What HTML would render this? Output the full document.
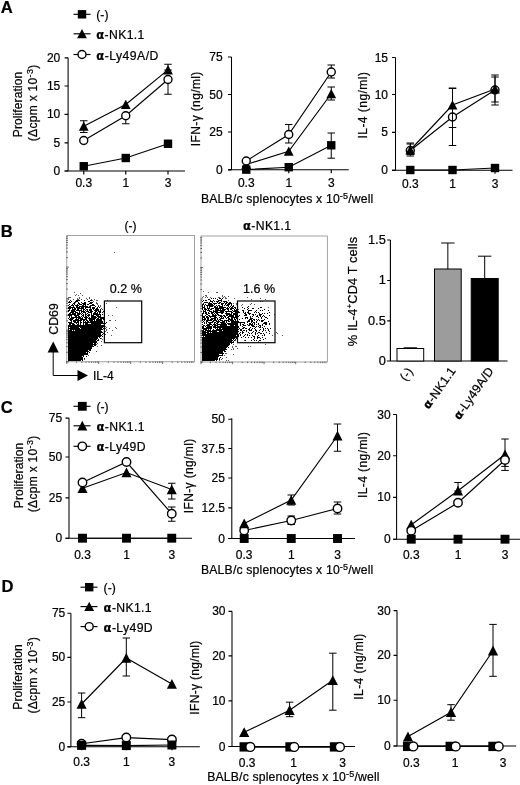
<!DOCTYPE html>
<html lang="en"><head><meta charset="utf-8"><title>Figure</title>
<style>
html,body{margin:0;padding:0;background:#fff;}
body{width:520px;height:785px;overflow:hidden;}
svg{display:block;}
svg text{font-family:'Liberation Sans', Arial, Helvetica, sans-serif;fill:#000;stroke:#000;stroke-width:0.22px;}
</style></head><body>
<svg width="520" height="785" viewBox="0 0 520 785">
<rect width="520" height="785" fill="#fff"/>
<text x="0.80" y="12.60" font-size="16.6" text-anchor="start" font-weight="bold" >A</text>
<path d="M73.5 14.3H90.5" stroke="#000" stroke-width="1.15"/>
<rect x="77.80" y="10.10" width="8.4" height="8.4" fill="#000"/>
<text x="96.30" y="19.10" font-size="12.2" text-anchor="start" font-weight="normal" >(-)</text>
<path d="M73.5 33.8H90.5" stroke="#000" stroke-width="1.15"/>
<path d="M82.00 29.00L86.90 38.30H77.10Z" fill="#000"/>
<text x="96.30" y="39.30" font-size="12.2" text-anchor="start" font-weight="normal" textLength="48" lengthAdjust="spacing"><tspan font-weight="bold" font-family="'DejaVu Sans','Liberation Sans',sans-serif" font-size="11.6">α</tspan>-NK1.1</text>
<path d="M73.5 54.5H90.5" stroke="#000" stroke-width="1.15"/>
<circle cx="82.00" cy="54.50" r="4.00" fill="#fff" stroke="#000" stroke-width="1.4"/>
<text x="96.30" y="59.60" font-size="12.2" text-anchor="start" font-weight="normal" textLength="62" lengthAdjust="spacing"><tspan font-weight="bold" font-family="'DejaVu Sans','Liberation Sans',sans-serif" font-size="11.6">α</tspan>-Ly49A/D</text>
<text transform="translate(22.40 104.50) rotate(-90)" font-size="12" text-anchor="middle"  textLength="65.5" lengthAdjust="spacing">Proliferation</text>
<text transform="translate(37.00 103.00) rotate(-90)" font-size="12" text-anchor="middle" textLength="76.5" lengthAdjust="spacing">(Δcpm x 10<tspan font-size="9" dy="-4.2">-3</tspan><tspan dy="4.2">)</tspan></text>
<path d="M68.1 57.8V171M64.6 171H185" stroke="#000" stroke-width="1.05" fill="none"/>
<path d="M64.6 57.8H68.1M64.6 86H68.1M64.6 114.3H68.1M64.6 142.8H68.1M64.6 171H68.1M83.75 171v3.5M125.75 171v3.5M168 171v3.5" stroke="#000" stroke-width="1.15" fill="none"/>
<text x="60.30" y="61.80" font-size="12" text-anchor="end" font-weight="normal" >20</text>
<text x="60.30" y="90.00" font-size="12" text-anchor="end" font-weight="normal" >15</text>
<text x="60.30" y="118.30" font-size="12" text-anchor="end" font-weight="normal" >10</text>
<text x="60.30" y="146.80" font-size="12" text-anchor="end" font-weight="normal" >5</text>
<text x="60.30" y="175.00" font-size="12" text-anchor="end" font-weight="normal" >0</text>
<text x="83.75" y="187.30" font-size="12" text-anchor="middle" font-weight="normal" >0.3</text>
<text x="125.75" y="187.30" font-size="12" text-anchor="middle" font-weight="normal" >1</text>
<text x="168.00" y="187.30" font-size="12" text-anchor="middle" font-weight="normal" >3</text>
<path d="M83.75 166.25L125.75 158.00L168.00 143.75" stroke="#000" stroke-width="1.15" fill="none"/>
<rect x="79.55" y="162.05" width="8.4" height="8.4" fill="#000"/>
<rect x="121.55" y="153.80" width="8.4" height="8.4" fill="#000"/>
<rect x="163.80" y="139.55" width="8.4" height="8.4" fill="#000"/>
<path d="M83.75 140.50L125.75 115.75L168.00 79.50" stroke="#000" stroke-width="1.15" fill="none"/>
<path d="M125.75 115.75V123.75M122.00 115.75h7.5M122.00 123.75h7.5" stroke="#000" stroke-width="1" fill="none"/>
<path d="M168.00 79.50V94.25M164.25 79.50h7.5M164.25 94.25h7.5" stroke="#000" stroke-width="1" fill="none"/>
<circle cx="83.75" cy="140.50" r="4.00" fill="#fff" stroke="#000" stroke-width="1.4"/>
<circle cx="125.75" cy="115.75" r="4.00" fill="#fff" stroke="#000" stroke-width="1.4"/>
<circle cx="168.00" cy="79.50" r="4.00" fill="#fff" stroke="#000" stroke-width="1.4"/>
<path d="M83.75 126.25L125.75 104.50L168.00 69.90" stroke="#000" stroke-width="1.15" fill="none"/>
<path d="M83.75 120.75V132.50M80.00 120.75h7.5M80.00 132.50h7.5" stroke="#000" stroke-width="1" fill="none"/>
<path d="M168.00 64.25V70.00M164.25 64.25h7.5M164.25 70.00h7.5" stroke="#000" stroke-width="1" fill="none"/>
<path d="M83.75 121.45L88.65 130.75H78.85Z" fill="#000"/>
<path d="M125.75 99.70L130.65 109.00H120.85Z" fill="#000"/>
<path d="M168.00 65.10L172.90 74.40H163.10Z" fill="#000"/>
<text transform="translate(200.40 108.90) rotate(-90)" font-size="12" text-anchor="middle"  textLength="74.5" lengthAdjust="spacing">IFN-γ (ng/ml)</text>
<path d="M231.5 57V169.8M228.0 169.8H348.75" stroke="#000" stroke-width="1.05" fill="none"/>
<path d="M228.0 57H231.5M228.0 94.5H231.5M228.0 132H231.5M228.0 169.8H231.5M246.25 169.8v3.5M288.75 169.8v3.5M331.25 169.8v3.5" stroke="#000" stroke-width="1.15" fill="none"/>
<text x="222.60" y="61.00" font-size="12" text-anchor="end" font-weight="normal" >75</text>
<text x="222.60" y="98.50" font-size="12" text-anchor="end" font-weight="normal" >50</text>
<text x="222.60" y="136.00" font-size="12" text-anchor="end" font-weight="normal" >25</text>
<text x="222.60" y="173.80" font-size="12" text-anchor="end" font-weight="normal" >0</text>
<text x="246.25" y="187.30" font-size="12" text-anchor="middle" font-weight="normal" >0.3</text>
<text x="288.75" y="187.30" font-size="12" text-anchor="middle" font-weight="normal" >1</text>
<text x="331.25" y="187.30" font-size="12" text-anchor="middle" font-weight="normal" >3</text>
<path d="M246.25 169.60L288.75 167.20L331.25 145.30" stroke="#000" stroke-width="1.15" fill="none"/>
<path d="M331.25 133.00V158.20M327.50 133.00h7.5M327.50 158.20h7.5" stroke="#000" stroke-width="1" fill="none"/>
<rect x="242.05" y="165.40" width="8.4" height="8.4" fill="#000"/>
<rect x="284.55" y="163.00" width="8.4" height="8.4" fill="#000"/>
<rect x="327.05" y="141.10" width="8.4" height="8.4" fill="#000"/>
<path d="M246.25 164.50L288.75 151.25L331.25 93.75" stroke="#000" stroke-width="1.15" fill="none"/>
<path d="M331.25 87.00V100.00M327.50 87.00h7.5M327.50 100.00h7.5" stroke="#000" stroke-width="1" fill="none"/>
<path d="M246.25 159.70L251.15 169.00H241.35Z" fill="#000"/>
<path d="M288.75 146.45L293.65 155.75H283.85Z" fill="#000"/>
<path d="M331.25 88.95L336.15 98.25H326.35Z" fill="#000"/>
<path d="M246.25 161.00L288.75 134.50L331.25 72.00" stroke="#000" stroke-width="1.15" fill="none"/>
<path d="M288.75 124.50V143.00M285.00 124.50h7.5M285.00 143.00h7.5" stroke="#000" stroke-width="1" fill="none"/>
<path d="M331.25 65.00V78.00M327.50 65.00h7.5M327.50 78.00h7.5" stroke="#000" stroke-width="1" fill="none"/>
<circle cx="246.25" cy="161.00" r="4.00" fill="#fff" stroke="#000" stroke-width="1.4"/>
<circle cx="288.75" cy="134.50" r="4.00" fill="#fff" stroke="#000" stroke-width="1.4"/>
<circle cx="331.25" cy="72.00" r="4.00" fill="#fff" stroke="#000" stroke-width="1.4"/>
<text transform="translate(366.80 105.30) rotate(-90)" font-size="12" text-anchor="middle"  textLength="66.5" lengthAdjust="spacing">IL-4 (ng/ml)</text>
<path d="M395.5 57.5V170.3M392.0 170.3H512.5" stroke="#000" stroke-width="1.05" fill="none"/>
<path d="M392.0 57.5H395.5M392.0 94.5H395.5M392.0 132.3H395.5M392.0 170.3H395.5M410.3 170.3v3.5M452.5 170.3v3.5M495 170.3v3.5" stroke="#000" stroke-width="1.15" fill="none"/>
<text x="388.00" y="61.50" font-size="12" text-anchor="end" font-weight="normal" >15</text>
<text x="388.00" y="98.50" font-size="12" text-anchor="end" font-weight="normal" >10</text>
<text x="388.00" y="136.30" font-size="12" text-anchor="end" font-weight="normal" >5</text>
<text x="388.00" y="174.30" font-size="12" text-anchor="end" font-weight="normal" >0</text>
<text x="410.30" y="187.60" font-size="12" text-anchor="middle" font-weight="normal" >0.3</text>
<text x="452.50" y="187.60" font-size="12" text-anchor="middle" font-weight="normal" >1</text>
<text x="495.00" y="187.60" font-size="12" text-anchor="middle" font-weight="normal" >3</text>
<path d="M410.30 170.00L452.50 170.00L495.00 168.00" stroke="#000" stroke-width="1.15" fill="none"/>
<rect x="406.10" y="165.80" width="8.4" height="8.4" fill="#000"/>
<rect x="448.30" y="165.80" width="8.4" height="8.4" fill="#000"/>
<rect x="490.80" y="163.80" width="8.4" height="8.4" fill="#000"/>
<path d="M410.30 150.50L452.50 117.00L495.00 90.00" stroke="#000" stroke-width="1.15" fill="none"/>
<path d="M410.30 143.00V154.50M406.55 143.00h7.5M406.55 154.50h7.5" stroke="#000" stroke-width="1" fill="none"/>
<path d="M452.50 88.50V145.50M448.75 88.50h7.5M448.75 145.50h7.5" stroke="#000" stroke-width="1" fill="none"/>
<path d="M495.00 77.00V102.00M491.25 77.00h7.5M491.25 102.00h7.5" stroke="#000" stroke-width="1" fill="none"/>
<circle cx="410.30" cy="150.50" r="4.00" fill="#fff" stroke="#000" stroke-width="1.4"/>
<circle cx="452.50" cy="117.00" r="4.00" fill="#fff" stroke="#000" stroke-width="1.4"/>
<circle cx="495.00" cy="90.00" r="4.00" fill="#fff" stroke="#000" stroke-width="1.4"/>
<path d="M410.30 150.00L452.50 105.00L495.00 89.00" stroke="#000" stroke-width="1.15" fill="none"/>
<path d="M410.30 144.00V156.00M406.55 144.00h7.5M406.55 156.00h7.5" stroke="#000" stroke-width="1" fill="none"/>
<path d="M452.50 88.00V127.50M448.75 88.00h7.5M448.75 127.50h7.5" stroke="#000" stroke-width="1" fill="none"/>
<path d="M495.00 75.00V105.00M491.25 75.00h7.5M491.25 105.00h7.5" stroke="#000" stroke-width="1" fill="none"/>
<path d="M410.30 145.20L415.20 154.50H405.40Z" fill="#000"/>
<path d="M452.50 100.20L457.40 109.50H447.60Z" fill="#000"/>
<path d="M495.00 84.20L499.90 93.50H490.10Z" fill="#000"/>
<text x="201" y="203.4" font-size="12.2" text-anchor="start" textLength="172.3" lengthAdjust="spacing">BALB/c splenocytes x 10<tspan font-size="9" dy="-4.2">-5</tspan><tspan dy="4.2">/well</tspan></text>
<text x="0.80" y="237.40" font-size="16.6" text-anchor="start" font-weight="bold" >B</text>
<text x="130.50" y="229.60" font-size="12" text-anchor="middle" font-weight="normal" >(-)</text>
<text x="267.00" y="229.50" font-size="12.2" text-anchor="middle" font-weight="normal" textLength="48" lengthAdjust="spacing"><tspan font-weight="bold" font-family="'DejaVu Sans','Liberation Sans',sans-serif" font-size="11.6">α</tspan>-NK1.1</text>
<path d="M68 361h13M82 361h1M68 360h15M68 359h15M84 359h1M68 358h15M68 357h14M83 357h1M86 357h1M68 356h16M68 355h20M68 354h20M68 353h18M87 353h1M89 353h1M68 352h21M68 351h20M89 351h2M68 350h23M68 349h24M68 348h24M68 347h26M68 346h25M94 346h2M68 345h28M68 344h25M94 344h2M68 343h29M68 342h29M68 341h28M97 341h2M68 340h29M98 340h1M68 339h30M100 339h1M68 338h30M99 338h1M68 337h33M102 337h1M68 336h34M68 335h33M102 335h1M104 335h1M68 334h33M103 334h1M68 333h35M68 332h34M68 331h4M73 331h1M75 331h26M68 330h1M70 330h33M68 329h12M81 329h21M103 329h1M68 328h1M70 328h9M80 328h23M104 328h1M68 327h37M68 326h37M69 325h2M72 325h3M77 325h2M80 325h1M83 325h1M85 325h16M69 324h5M76 324h1M78 324h1M80 324h1M83 324h1M85 324h3M91 324h15M68 323h4M74 323h5M80 323h2M83 323h20M104 323h1M106 323h1M71 322h1M73 322h3M77 322h2M80 322h1M83 322h1M85 322h1M87 322h2M90 322h13M104 322h1M70 321h2M73 321h9M83 321h2M86 321h2M89 321h4M94 321h1M96 321h6M69 320h4M75 320h4M80 320h7M89 320h6M96 320h6M103 320h2M68 319h1M70 319h4M76 319h1M78 319h5M85 319h2M88 319h8M97 319h2M100 319h4M69 318h1M71 318h10M82 318h1M84 318h4M89 318h1M91 318h6M98 318h6M69 317h1M71 317h1M75 317h2M78 317h2M81 317h1M83 317h1M85 317h2M88 317h1M91 317h5M97 317h4M68 316h4M74 316h5M82 316h2M85 316h1M87 316h3M91 316h3M96 316h3M100 316h1M68 315h8M77 315h3M81 315h1M83 315h1M85 315h2M88 315h2M91 315h1M93 315h8M102 315h1M69 314h2M72 314h4M77 314h4M82 314h1M85 314h1M87 314h1M91 314h1M93 314h5M99 314h1M70 313h4M75 313h3M79 313h1M81 313h1M83 313h3M88 313h4M94 313h2M97 313h1M99 313h2M102 313h1M104 313h1M68 312h1M71 312h5M79 312h1M81 312h4M86 312h3M90 312h3M95 312h2M98 312h3M103 312h1M68 311h2M71 311h4M76 311h6M83 311h1M85 311h1M87 311h1M89 311h3M94 311h5M100 311h1M69 310h1M72 310h4M77 310h2M81 310h1M83 310h2M86 310h2M89 310h3M93 310h1M95 310h4M100 310h1M68 309h3M72 309h1M74 309h2M77 309h7M85 309h1M90 309h1M92 309h3M96 309h2M68 308h7M76 308h4M81 308h3M85 308h6M92 308h3M97 308h1M99 308h1M69 307h2M73 307h1M76 307h2M79 307h9M89 307h2M95 307h1M98 307h1M68 306h1M71 306h3M75 306h4M82 306h2M85 306h1M90 306h5M69 305h1M72 305h1M74 305h1M77 305h1M79 305h3M83 305h3M87 305h2M92 305h2M73 304h2M78 304h2M82 304h4M89 304h3M68 303h3M74 303h2M78 303h1M81 303h1M84 303h2M90 303h3M69 302h1M71 302h1M75 302h3M88 302h2M70 301h1M76 301h4M84 301h1M90 301h2" stroke="#000" stroke-width="1" fill="none" shape-rendering="crispEdges" transform="translate(0 -0.5)"/>
<path d="M84 360h1M88 356h1M96 352h1M97 347h1M101 346h1M96 345h1M97 344h1M101 342h1M102 340h1M101 339h1M111 336h1M105 335h1M107 333h1M105 332h1M106 331h1M112 331h1M106 330h1M105 329h1M109 329h1M116 329h1M106 328h1M115 328h1M105 327h1M109 321h1M110 321h1M115 321h1M108 316h1M112 316h1M102 310h1M101 309h1M116 308h1M100 307h1M98 306h1M100 306h1M97 305h1M96 304h1M97 304h1M106 304h1M96 303h1M93 302h1M92 301h1M96 301h1M97 301h1M107 301h1M68 300h1M73 300h1M77 300h1M78 300h1M81 300h1M87 300h1M91 300h1M94 300h1M77 299h1M79 299h1M86 299h1M89 299h1M68 298h1M69 298h1M70 298h1M79 298h1M89 298h1M75 296h1M78 296h1M82 296h1M76 295h1M80 294h1M74 293h1M114 253h1" stroke="#555" stroke-width="1" fill="none" shape-rendering="crispEdges" transform="translate(0 -0.5)"/>
<rect x="66.8" y="235.5" width="127.7" height="126.30000000000001" fill="none" stroke="#8a8a8a" stroke-width="0.8"/>
<path d="M66.8 361.5v2.5M66.2 361.8h2.8000000000000003M76.4 361.5v1.4000000000000001M66.2 352.3h1.7000000000000002M82.0 361.5v1.4000000000000001M66.2 346.7h1.7000000000000002M86.0 361.5v1.4000000000000001M66.2 342.8h1.7000000000000002M89.1 361.5v1.4000000000000001M66.2 339.7h1.7000000000000002M91.6 361.5v1.4000000000000001M66.2 337.2h1.7000000000000002M93.8 361.5v1.4000000000000001M66.2 335.1h1.7000000000000002M95.6 361.5v1.4000000000000001M66.2 333.3h1.7000000000000002M97.3 361.5v1.4000000000000001M66.2 331.7h1.7000000000000002M98.7 361.5v2.5M66.2 330.2h2.8000000000000003M108.3 361.5v1.4000000000000001M66.2 320.7h1.7000000000000002M114.0 361.5v1.4000000000000001M66.2 315.2h1.7000000000000002M117.9 361.5v1.4000000000000001M66.2 311.2h1.7000000000000002M121.0 361.5v1.4000000000000001M66.2 308.2h1.7000000000000002M123.6 361.5v1.4000000000000001M66.2 305.7h1.7000000000000002M125.7 361.5v1.4000000000000001M66.2 303.5h1.7000000000000002M127.6 361.5v1.4000000000000001M66.2 301.7h1.7000000000000002M129.2 361.5v1.4000000000000001M66.2 300.1h1.7000000000000002M130.7 361.5v2.5M66.2 298.6h2.8000000000000003M140.3 361.5v1.4000000000000001M66.2 289.1h1.7000000000000002M145.9 361.5v1.4000000000000001M66.2 283.6h1.7000000000000002M149.9 361.5v1.4000000000000001M66.2 279.6h1.7000000000000002M153.0 361.5v1.4000000000000001M66.2 276.6h1.7000000000000002M155.5 361.5v1.4000000000000001M66.2 274.1h1.7000000000000002M157.6 361.5v1.4000000000000001M66.2 272.0h1.7000000000000002M159.5 361.5v1.4000000000000001M66.2 270.1h1.7000000000000002M161.1 361.5v1.4000000000000001M66.2 268.5h1.7000000000000002M162.6 361.5v2.5M66.2 267.1h2.8000000000000003M172.2 361.5v1.4000000000000001M66.2 257.6h1.7000000000000002M177.8 361.5v1.4000000000000001M66.2 252.0h1.7000000000000002M181.8 361.5v1.4000000000000001M66.2 248.1h1.7000000000000002M184.9 361.5v1.4000000000000001M66.2 245.0h1.7000000000000002M187.4 361.5v1.4000000000000001M66.2 242.5h1.7000000000000002M189.6 361.5v1.4000000000000001M66.2 240.4h1.7000000000000002M191.4 361.5v1.4000000000000001M66.2 238.6h1.7000000000000002M193.0 361.5v1.4000000000000001M66.2 236.9h1.7000000000000002" stroke="#333" stroke-width="0.7" fill="none"/>
<rect x="104.4" y="301" width="37.29999999999998" height="41.69999999999999" fill="none" stroke="#000" stroke-width="1.2"/>
<text x="125.85" y="293.20" font-size="12.5" text-anchor="middle" font-weight="normal" >0.2 %</text>
<path d="M202 361h13M216 361h1M202 360h16M219 360h1M202 359h16M219 359h1M202 358h16M220 358h1M202 357h17M202 356h21M202 355h17M222 355h1M202 354h22M202 353h21M202 352h21M224 352h2M202 351h23M202 350h25M202 349h24M202 348h25M228 348h1M202 347h26M202 346h27M202 345h28M202 344h28M231 344h1M202 343h32M202 342h30M233 342h1M202 341h31M234 341h1M245 341h1M251 341h1M254 341h1M256 341h1M259 341h2M202 340h30M233 340h1M235 340h1M253 340h1M263 340h1M202 339h33M236 339h1M254 339h1M257 339h1M260 339h1M265 339h1M202 338h35M241 338h1M245 338h1M248 338h1M251 338h1M254 338h1M257 338h3M262 338h1M203 337h1M205 337h32M238 337h1M243 337h1M253 337h2M257 337h1M202 336h34M237 336h2M240 336h1M244 336h1M247 336h1M249 336h1M252 336h1M258 336h1M262 336h1M264 336h1M202 335h37M240 335h1M245 335h1M247 335h1M255 335h1M264 335h1M202 334h4M207 334h31M239 334h1M242 334h1M249 334h1M251 334h1M255 334h1M257 334h1M260 334h2M263 334h1M269 334h1M202 333h7M210 333h1M212 333h25M240 333h1M242 333h2M248 333h1M252 333h1M255 333h1M258 333h2M266 333h1M202 332h4M207 332h10M219 332h20M242 332h1M246 332h1M253 332h1M256 332h1M262 332h1M269 332h1M202 331h2M205 331h6M212 331h10M223 331h15M240 331h2M243 331h2M246 331h1M249 331h3M255 331h2M259 331h1M263 331h1M265 331h1M268 331h1M203 330h4M208 330h1M210 330h1M213 330h1M216 330h23M240 330h2M248 330h2M251 330h1M255 330h1M260 330h1M263 330h1M268 330h1M202 329h10M215 329h1M217 329h1M219 329h2M222 329h15M239 329h1M242 329h2M245 329h2M249 329h1M252 329h1M254 329h1M263 329h1M265 329h1M267 329h1M270 329h1M202 328h2M206 328h6M213 328h26M243 328h2M250 328h1M255 328h1M259 328h2M262 328h1M202 327h2M205 327h1M207 327h5M213 327h3M217 327h20M238 327h1M242 327h1M252 327h3M256 327h1M258 327h1M260 327h1M264 327h1M203 326h2M206 326h4M212 326h1M214 326h4M220 326h7M230 326h4M235 326h3M240 326h1M243 326h3M248 326h2M251 326h3M259 326h2M262 326h1M202 325h1M207 325h5M213 325h3M217 325h10M228 325h9M240 325h1M242 325h2M247 325h1M249 325h4M254 325h1M256 325h1M258 325h1M262 325h1M265 325h2M269 325h1M204 324h1M206 324h1M209 324h2M214 324h1M216 324h2M221 324h5M227 324h11M240 324h1M244 324h1M249 324h2M252 324h1M254 324h1M258 324h1M263 324h4M269 324h1M202 323h1M204 323h1M206 323h1M208 323h5M214 323h2M217 323h2M220 323h5M226 323h1M231 323h14M247 323h1M251 323h1M253 323h2M256 323h1M264 323h3M203 322h1M206 322h2M212 322h2M216 322h4M222 322h3M226 322h1M228 322h2M231 322h8M247 322h3M251 322h2M256 322h1M261 322h2M268 322h1M202 321h1M204 321h1M206 321h6M213 321h4M218 321h1M220 321h3M224 321h5M230 321h4M235 321h1M237 321h1M248 321h2M251 321h2M254 321h1M257 321h1M259 321h1M261 321h3M202 320h4M207 320h2M210 320h3M214 320h2M217 320h1M219 320h2M228 320h5M234 320h2M239 320h1M249 320h3M253 320h2M256 320h1M258 320h1M264 320h1M202 319h1M204 319h2M207 319h2M211 319h5M217 319h1M220 319h4M226 319h1M228 319h2M231 319h2M234 319h1M236 319h1M242 319h1M245 319h1M247 319h1M250 319h3M261 319h1M267 319h1M202 318h3M206 318h3M210 318h1M214 318h3M219 318h1M221 318h1M223 318h1M225 318h1M227 318h2M231 318h6M245 318h3M250 318h1M258 318h1M261 318h1M265 318h2M202 317h3M206 317h2M209 317h7M220 317h3M224 317h2M228 317h6M235 317h4M250 317h1M252 317h1M256 317h2M260 317h1M262 317h1M264 317h1M202 316h1M205 316h1M208 316h2M212 316h5M218 316h4M223 316h2M226 316h2M229 316h5M235 316h2M239 316h1M244 316h3M253 316h1M257 316h1M259 316h2M263 316h1M269 316h1M202 315h1M206 315h2M212 315h2M215 315h1M217 315h2M226 315h6M233 315h4M245 315h2M249 315h1M252 315h2M255 315h1M259 315h3M202 314h2M205 314h2M208 314h2M211 314h2M214 314h1M216 314h2M221 314h2M225 314h5M231 314h1M233 314h4M244 314h2M248 314h3M259 314h1M262 314h1M264 314h1M267 314h1M203 313h1M205 313h2M208 313h1M211 313h3M215 313h9M226 313h1M231 313h2M235 313h2M238 313h2M243 313h1M245 313h1M247 313h2M254 313h1M256 313h1M258 313h1M269 313h1M203 312h3M209 312h3M213 312h5M220 312h4M225 312h7M233 312h6M243 312h1M248 312h1M255 312h1M203 311h1M205 311h1M207 311h3M213 311h1M215 311h10M228 311h1M232 311h1M234 311h3M242 311h2M248 311h4M256 311h1M260 311h1M262 311h1M268 311h1M202 310h1M204 310h3M208 310h1M210 310h2M215 310h4M220 310h1M222 310h4M227 310h2M230 310h2M234 310h1M236 310h1M247 310h1M264 310h1M202 309h1M204 309h2M207 309h3M211 309h3M215 309h9M226 309h3M230 309h4M235 309h1M244 309h1M248 309h1M252 309h2M258 309h1M202 308h3M207 308h1M209 308h1M214 308h4M219 308h7M227 308h1M229 308h1M231 308h2M234 308h2M242 308h1M247 308h1M260 308h2M202 307h1M204 307h1M207 307h1M209 307h4M214 307h2M217 307h1M219 307h4M228 307h1M230 307h1M232 307h2M248 307h1M202 306h1M204 306h1M206 306h8M216 306h1M218 306h2M222 306h1M224 306h1M226 306h3M231 306h1M233 306h1M202 305h2M205 305h1M208 305h5M214 305h1M221 305h2M225 305h1M227 305h3M231 305h1M203 304h1M208 304h4M213 304h4M218 304h2M221 304h3M225 304h2M228 304h4M204 303h4M209 303h1M212 303h1M217 303h1M219 303h2M224 303h1M226 303h2M229 303h2M202 302h1M210 302h3M214 302h1M216 302h3M221 302h1M223 302h4M203 301h1M205 301h2M210 301h1M213 301h1M218 301h4M208 300h2M217 300h1M221 300h1M211 299h1M213 299h1M215 299h1M219 299h2M222 299h1" stroke="#000" stroke-width="1" fill="none" shape-rendering="crispEdges" transform="translate(0 -0.5)"/>
<path d="M219 361h1M226 361h1M228 361h1M221 360h1M222 359h1M226 358h1M224 356h1M233 355h1M225 354h1M226 354h1M231 350h1M233 350h1M233 349h1M237 349h1M232 348h1M232 347h1M235 347h1M236 347h1M248 347h1M250 347h1M233 345h1M265 345h1M258 342h1M235 341h1M244 341h1M272 336h1M282 336h1M277 334h1M276 333h1M274 315h1M237 310h1M238 310h1M268 308h1M241 306h1M236 305h1M242 305h1M250 305h1M254 305h1M233 304h1M236 304h1M251 304h1M260 302h1M262 302h1M228 301h1M251 300h1M265 300h1M225 299h1M226 299h1M234 299h1M260 299h1M202 298h1M205 298h1M207 298h1M210 298h1M218 298h1M219 298h1M223 298h1M225 298h1M247 298h1M203 297h1M206 297h1M222 297h1M224 297h1M228 297h1M205 296h1M206 296h1M222 296h1M208 293h1M216 293h1M217 293h1M203 292h1" stroke="#555" stroke-width="1" fill="none" shape-rendering="crispEdges" transform="translate(0 -0.5)"/>
<rect x="201" y="236" width="126.30000000000001" height="126" fill="none" stroke="#8a8a8a" stroke-width="0.8"/>
<path d="M201.0 361.7v2.5M200.4 362.0h2.8000000000000003M210.5 361.7v1.4000000000000001M200.4 352.5h1.7000000000000002M216.1 361.7v1.4000000000000001M200.4 347.0h1.7000000000000002M220.0 361.7v1.4000000000000001M200.4 343.0h1.7000000000000002M223.1 361.7v1.4000000000000001M200.4 340.0h1.7000000000000002M225.6 361.7v1.4000000000000001M200.4 337.5h1.7000000000000002M227.7 361.7v1.4000000000000001M200.4 335.4h1.7000000000000002M229.5 361.7v1.4000000000000001M200.4 333.6h1.7000000000000002M231.1 361.7v1.4000000000000001M200.4 331.9h1.7000000000000002M232.6 361.7v2.5M200.4 330.5h2.8000000000000003M242.1 361.7v1.4000000000000001M200.4 321.0h1.7000000000000002M247.6 361.7v1.4000000000000001M200.4 315.5h1.7000000000000002M251.6 361.7v1.4000000000000001M200.4 311.5h1.7000000000000002M254.6 361.7v1.4000000000000001M200.4 308.5h1.7000000000000002M257.1 361.7v1.4000000000000001M200.4 306.0h1.7000000000000002M259.3 361.7v1.4000000000000001M200.4 303.9h1.7000000000000002M261.1 361.7v1.4000000000000001M200.4 302.1h1.7000000000000002M262.7 361.7v1.4000000000000001M200.4 300.4h1.7000000000000002M264.1 361.7v2.5M200.4 299.0h2.8000000000000003M273.7 361.7v1.4000000000000001M200.4 289.5h1.7000000000000002M279.2 361.7v1.4000000000000001M200.4 284.0h1.7000000000000002M283.2 361.7v1.4000000000000001M200.4 280.0h1.7000000000000002M286.2 361.7v1.4000000000000001M200.4 277.0h1.7000000000000002M288.7 361.7v1.4000000000000001M200.4 274.5h1.7000000000000002M290.8 361.7v1.4000000000000001M200.4 272.4h1.7000000000000002M292.7 361.7v1.4000000000000001M200.4 270.6h1.7000000000000002M294.3 361.7v1.4000000000000001M200.4 268.9h1.7000000000000002M295.7 361.7v2.5M200.4 267.5h2.8000000000000003M305.2 361.7v1.4000000000000001M200.4 258.0h1.7000000000000002M310.8 361.7v1.4000000000000001M200.4 252.5h1.7000000000000002M314.7 361.7v1.4000000000000001M200.4 248.5h1.7000000000000002M317.8 361.7v1.4000000000000001M200.4 245.5h1.7000000000000002M320.3 361.7v1.4000000000000001M200.4 243.0h1.7000000000000002M322.4 361.7v1.4000000000000001M200.4 240.9h1.7000000000000002M324.2 361.7v1.4000000000000001M200.4 239.1h1.7000000000000002M325.9 361.7v1.4000000000000001M200.4 237.4h1.7000000000000002" stroke="#333" stroke-width="0.7" fill="none"/>
<rect x="237.5" y="301" width="37.5" height="41.69999999999999" fill="none" stroke="#000" stroke-width="1.2"/>
<text x="259.05" y="293.20" font-size="12.5" text-anchor="middle" font-weight="normal" >1.6 %</text>
<text transform="translate(57.60 319.00) rotate(-90)" font-size="12.3" text-anchor="middle" >CD69</text>
<path d="M53.2 350V375.5H79" stroke="#000" stroke-width="1" fill="none"/>
<path d="M53.2 341.5L58.8 352.5H47.6Z" fill="#000"/>
<path d="M88 375.5L77.5 370V381Z" fill="#000"/>
<text x="93.00" y="380.00" font-size="12" text-anchor="start" font-weight="normal" >IL-4</text>
<text transform="translate(356.8 291.5) rotate(-90)" font-size="12.8" text-anchor="middle" letter-spacing="0.12">% IL-4<tspan font-size="8" dy="-4.5">+</tspan><tspan dy="4.5">CD4 T cells</tspan></text>
<path d="M390.4 240V361M386.9 361H507.5M387.2 240h3.2M387.2 280.5h3.2M387.2 320.8h3.2" stroke="#000" stroke-width="1.15" fill="none"/>
<text x="385.80" y="243.70" font-size="12.8" text-anchor="end" font-weight="normal" >1.5</text>
<text x="385.80" y="284.20" font-size="12.8" text-anchor="end" font-weight="normal" >1</text>
<text x="385.80" y="324.50" font-size="12.8" text-anchor="end" font-weight="normal" >0.5</text>
<text x="385.80" y="364.70" font-size="12.8" text-anchor="end" font-weight="normal" >0</text>
<path d="M410.35 348.5V347.8M403.65000000000003 347.8h13.4" stroke="#000" stroke-width="1" fill="none"/>
<rect x="397" y="348.5" width="26.69999999999999" height="12.5" fill="#fff" stroke="#000" stroke-width="1"/>
<path d="M447.85 269V243M441.15000000000003 243h13.4" stroke="#000" stroke-width="1" fill="none"/>
<rect x="434.5" y="269" width="26.69999999999999" height="92" fill="#9c9c9c" stroke="#000" stroke-width="1"/>
<path d="M484.7 278.5V256.2M478.0 256.2h13.4" stroke="#000" stroke-width="1" fill="none"/>
<rect x="471.2" y="278.5" width="27.0" height="82.5" fill="#000" stroke="#000" stroke-width="1"/>
<text transform="translate(413.5 371.3) rotate(-55)" font-size="12.3" text-anchor="end" letter-spacing="0.2">(-)</text>
<text transform="translate(456.2 370.8) rotate(-55)" font-size="12.3" text-anchor="end" letter-spacing="0.2"><tspan font-weight="bold" font-family="'DejaVu Sans','Liberation Sans',sans-serif" font-size="11.6">α</tspan>-NK1.1</text>
<text transform="translate(494.2 370.8) rotate(-55)" font-size="12.3" text-anchor="end" letter-spacing="0.2"><tspan font-weight="bold" font-family="'DejaVu Sans','Liberation Sans',sans-serif" font-size="11.6">α</tspan>-Ly49A/D</text>
<text x="0.80" y="412.60" font-size="16.6" text-anchor="start" font-weight="bold" >C</text>
<path d="M73.5 406.3H90.5" stroke="#000" stroke-width="1.15"/>
<rect x="77.89" y="401.89" width="8.82" height="8.82" fill="#000"/>
<text x="96.50" y="411.10" font-size="12.2" text-anchor="start" font-weight="normal" >(-)</text>
<path d="M73.5 425.8H90.5" stroke="#000" stroke-width="1.15"/>
<path d="M82.30 420.87L87.30 430.44H77.30Z" fill="#000"/>
<text x="96.50" y="431.30" font-size="12.2" text-anchor="start" font-weight="normal" textLength="48" lengthAdjust="spacing"><tspan font-weight="bold" font-family="'DejaVu Sans','Liberation Sans',sans-serif" font-size="11.6">α</tspan>-NK1.1</text>
<path d="M73.5 446.3H90.5" stroke="#000" stroke-width="1.15"/>
<circle cx="82.30" cy="446.30" r="4.20" fill="#fff" stroke="#000" stroke-width="1.4"/>
<text x="96.50" y="451.40" font-size="12.2" text-anchor="start" font-weight="normal" textLength="49" lengthAdjust="spacing"><tspan font-weight="bold" font-family="'DejaVu Sans','Liberation Sans',sans-serif" font-size="11.6">α</tspan>-Ly49D</text>
<text transform="translate(22.60 475.50) rotate(-90)" font-size="12" text-anchor="middle"  textLength="65.5" lengthAdjust="spacing">Proliferation</text>
<text transform="translate(37.00 474.00) rotate(-90)" font-size="12" text-anchor="middle" textLength="76.5" lengthAdjust="spacing">(Δcpm x 10<tspan font-size="9" dy="-4.2">-3</tspan><tspan dy="4.2">)</tspan></text>
<path d="M69 418.1V538.2M65.5 538.2H192" stroke="#000" stroke-width="1.05" fill="none"/>
<path d="M65.5 418.1H69M65.5 457H69M65.5 497.8H69M65.5 538.2H69M82.5 538.2v3.5M126.5 538.2v3.5M171.75 538.2v3.5" stroke="#000" stroke-width="1.15" fill="none"/>
<text x="62.10" y="422.10" font-size="12" text-anchor="end" font-weight="normal" >75</text>
<text x="62.10" y="461.00" font-size="12" text-anchor="end" font-weight="normal" >50</text>
<text x="62.10" y="501.80" font-size="12" text-anchor="end" font-weight="normal" >25</text>
<text x="62.10" y="542.20" font-size="12" text-anchor="end" font-weight="normal" >0</text>
<text x="82.50" y="559.30" font-size="12" text-anchor="middle" font-weight="normal" >0.3</text>
<text x="126.50" y="559.30" font-size="12" text-anchor="middle" font-weight="normal" >1</text>
<text x="171.75" y="559.30" font-size="12" text-anchor="middle" font-weight="normal" >3</text>
<path d="M82.50 538.20L126.50 538.20L171.75 538.20" stroke="#000" stroke-width="1.15" fill="none"/>
<rect x="78.05" y="533.75" width="8.904000000000002" height="8.904000000000002" fill="#000"/>
<rect x="122.05" y="533.75" width="8.904000000000002" height="8.904000000000002" fill="#000"/>
<rect x="167.30" y="533.75" width="8.904000000000002" height="8.904000000000002" fill="#000"/>
<path d="M82.50 488.25L126.50 472.50L171.75 489.50" stroke="#000" stroke-width="1.15" fill="none"/>
<path d="M171.75 483.25V499.00M168.00 483.25h7.5M168.00 499.00h7.5" stroke="#000" stroke-width="1" fill="none"/>
<path d="M82.50 483.29L87.52 492.91H77.48Z" fill="#000"/>
<path d="M126.50 467.54L131.52 477.16H121.48Z" fill="#000"/>
<path d="M171.75 484.54L176.77 494.16H166.73Z" fill="#000"/>
<path d="M82.50 482.50L126.50 462.00L171.75 513.75" stroke="#000" stroke-width="1.15" fill="none"/>
<path d="M171.75 507.00V521.25M168.00 507.00h7.5M168.00 521.25h7.5" stroke="#000" stroke-width="1" fill="none"/>
<circle cx="82.50" cy="482.50" r="4.24" fill="#fff" stroke="#000" stroke-width="1.4"/>
<circle cx="126.50" cy="462.00" r="4.24" fill="#fff" stroke="#000" stroke-width="1.4"/>
<circle cx="171.75" cy="513.75" r="4.24" fill="#fff" stroke="#000" stroke-width="1.4"/>
<text transform="translate(193.40 476.00) rotate(-90)" font-size="12" text-anchor="middle"  textLength="74.5" lengthAdjust="spacing">IFN-γ (ng/ml)</text>
<path d="M231.8 418.3V538.5M228.3 538.5H355" stroke="#000" stroke-width="1.05" fill="none"/>
<path d="M228.3 419.2H231.8M228.3 448.5H231.8M228.3 478H231.8M228.3 507.8H231.8M228.3 538.5H231.8M244.2 538.5v3.5M291.25 538.5v3.5M337.5 538.5v3.5" stroke="#000" stroke-width="1.15" fill="none"/>
<text x="224.90" y="423.20" font-size="12" text-anchor="end" font-weight="normal" >50</text>
<text x="224.90" y="452.50" font-size="12" text-anchor="end" font-weight="normal" >37.5</text>
<text x="224.90" y="482.00" font-size="12" text-anchor="end" font-weight="normal" >25</text>
<text x="224.90" y="511.80" font-size="12" text-anchor="end" font-weight="normal" >12.5</text>
<text x="224.90" y="542.50" font-size="12" text-anchor="end" font-weight="normal" >0</text>
<text x="244.20" y="559.30" font-size="12" text-anchor="middle" font-weight="normal" >0.3</text>
<text x="291.25" y="559.30" font-size="12" text-anchor="middle" font-weight="normal" >1</text>
<text x="337.50" y="559.30" font-size="12" text-anchor="middle" font-weight="normal" >3</text>
<path d="M244.20 538.50L291.25 538.50L337.50 538.50" stroke="#000" stroke-width="1.15" fill="none"/>
<rect x="239.75" y="534.05" width="8.904000000000002" height="8.904000000000002" fill="#000"/>
<rect x="286.80" y="534.05" width="8.904000000000002" height="8.904000000000002" fill="#000"/>
<rect x="333.05" y="534.05" width="8.904000000000002" height="8.904000000000002" fill="#000"/>
<path d="M244.20 530.50L291.25 520.50L337.50 508.50" stroke="#000" stroke-width="1.15" fill="none"/>
<path d="M291.25 516.00V524.50M287.50 516.00h7.5M287.50 524.50h7.5" stroke="#000" stroke-width="1" fill="none"/>
<path d="M337.50 502.00V514.00M333.75 502.00h7.5M333.75 514.00h7.5" stroke="#000" stroke-width="1" fill="none"/>
<circle cx="244.20" cy="530.50" r="4.24" fill="#fff" stroke="#000" stroke-width="1.4"/>
<circle cx="291.25" cy="520.50" r="4.24" fill="#fff" stroke="#000" stroke-width="1.4"/>
<circle cx="337.50" cy="508.50" r="4.24" fill="#fff" stroke="#000" stroke-width="1.4"/>
<path d="M244.20 523.50L291.25 500.00L337.50 435.75" stroke="#000" stroke-width="1.15" fill="none"/>
<path d="M291.25 495.00V505.00M287.50 495.00h7.5M287.50 505.00h7.5" stroke="#000" stroke-width="1" fill="none"/>
<path d="M337.50 424.00V451.25M333.75 424.00h7.5M333.75 451.25h7.5" stroke="#000" stroke-width="1" fill="none"/>
<path d="M244.20 518.54L249.22 528.16H239.18Z" fill="#000"/>
<path d="M291.25 495.04L296.27 504.66H286.23Z" fill="#000"/>
<path d="M337.50 430.79L342.52 440.41H332.48Z" fill="#000"/>
<text transform="translate(366.80 465.10) rotate(-90)" font-size="12" text-anchor="middle"  textLength="66" lengthAdjust="spacing">IL-4 (ng/ml)</text>
<path d="M396.6 414.5V539.2M393.1 539.2H520" stroke="#000" stroke-width="1.05" fill="none"/>
<path d="M393.1 414.5H396.6M393.1 455.75H396.6M393.1 497.3H396.6M393.1 539.2H396.6M411.25 539.2v3.5M458 539.2v3.5M505 539.2v3.5" stroke="#000" stroke-width="1.15" fill="none"/>
<text x="390.70" y="418.50" font-size="12" text-anchor="end" font-weight="normal" >30</text>
<text x="390.70" y="459.75" font-size="12" text-anchor="end" font-weight="normal" >20</text>
<text x="390.70" y="501.30" font-size="12" text-anchor="end" font-weight="normal" >10</text>
<text x="390.70" y="543.20" font-size="12" text-anchor="end" font-weight="normal" >0</text>
<text x="411.25" y="559.30" font-size="12" text-anchor="middle" font-weight="normal" >0.3</text>
<text x="458.00" y="559.30" font-size="12" text-anchor="middle" font-weight="normal" >1</text>
<text x="505.00" y="559.30" font-size="12" text-anchor="middle" font-weight="normal" >3</text>
<path d="M411.25 539.20L458.00 539.20L505.00 539.20" stroke="#000" stroke-width="1.15" fill="none"/>
<rect x="406.80" y="534.75" width="8.904000000000002" height="8.904000000000002" fill="#000"/>
<rect x="453.55" y="534.75" width="8.904000000000002" height="8.904000000000002" fill="#000"/>
<rect x="500.55" y="534.75" width="8.904000000000002" height="8.904000000000002" fill="#000"/>
<path d="M411.25 524.70L458.00 490.75L505.00 454.50" stroke="#000" stroke-width="1.15" fill="none"/>
<path d="M458.00 482.50V491.00M454.25 482.50h7.5M454.25 491.00h7.5" stroke="#000" stroke-width="1" fill="none"/>
<path d="M505.00 439.00V466.40M501.25 439.00h7.5M501.25 466.40h7.5" stroke="#000" stroke-width="1" fill="none"/>
<path d="M411.25 519.74L416.27 529.36H406.23Z" fill="#000"/>
<path d="M458.00 485.79L463.02 495.41H452.98Z" fill="#000"/>
<path d="M505.00 449.54L510.02 459.16H499.98Z" fill="#000"/>
<path d="M411.25 530.70L458.00 502.75L505.00 460.00" stroke="#000" stroke-width="1.15" fill="none"/>
<path d="M505.00 460.00V470.40M501.25 460.00h7.5M501.25 470.40h7.5" stroke="#000" stroke-width="1" fill="none"/>
<circle cx="411.25" cy="530.70" r="4.24" fill="#fff" stroke="#000" stroke-width="1.4"/>
<circle cx="458.00" cy="502.75" r="4.24" fill="#fff" stroke="#000" stroke-width="1.4"/>
<circle cx="505.00" cy="460.00" r="4.24" fill="#fff" stroke="#000" stroke-width="1.4"/>
<text x="201" y="574.1" font-size="12.2" text-anchor="start" textLength="172.3" lengthAdjust="spacing">BALB/c splenocytes x 10<tspan font-size="9" dy="-4.2">-5</tspan><tspan dy="4.2">/well</tspan></text>
<text x="1.60" y="591.60" font-size="16.6" text-anchor="start" font-weight="bold" >D</text>
<path d="M80.5 587.2H97.5" stroke="#000" stroke-width="1.15"/>
<rect x="85.00" y="583.00" width="8.4" height="8.4" fill="#000"/>
<text x="103.60" y="592.00" font-size="12.2" text-anchor="start" font-weight="normal" >(-)</text>
<path d="M80.5 606.6H97.5" stroke="#000" stroke-width="1.15"/>
<path d="M89.20 601.80L94.10 611.10H84.30Z" fill="#000"/>
<text x="103.60" y="612.10" font-size="12.2" text-anchor="start" font-weight="normal" textLength="48" lengthAdjust="spacing"><tspan font-weight="bold" font-family="'DejaVu Sans','Liberation Sans',sans-serif" font-size="11.6">α</tspan>-NK1.1</text>
<path d="M80.5 626.6H97.5" stroke="#000" stroke-width="1.15"/>
<circle cx="89.20" cy="626.60" r="4.00" fill="#fff" stroke="#000" stroke-width="1.4"/>
<text x="103.60" y="631.70" font-size="12.2" text-anchor="start" font-weight="normal" textLength="49" lengthAdjust="spacing"><tspan font-weight="bold" font-family="'DejaVu Sans','Liberation Sans',sans-serif" font-size="11.6">α</tspan>-Ly49D</text>
<text transform="translate(22.00 677.00) rotate(-90)" font-size="12" text-anchor="middle"  textLength="65.5" lengthAdjust="spacing">Proliferation</text>
<text transform="translate(37.00 675.30) rotate(-90)" font-size="12" text-anchor="middle" textLength="76.5" lengthAdjust="spacing">(Δcpm x 10<tspan font-size="9" dy="-4.2">-3</tspan><tspan dy="4.2">)</tspan></text>
<path d="M70.9 613.2V746.8M67.4 746.8H199.8" stroke="#000" stroke-width="1.05" fill="none"/>
<path d="M67.4 613.2H70.9M67.4 657.4H70.9M67.4 702H70.9M67.4 746.8H70.9M81.6 746.8v3.5M126.3 746.8v3.5M171.9 746.8v3.5" stroke="#000" stroke-width="1.15" fill="none"/>
<text x="65.30" y="617.20" font-size="12" text-anchor="end" font-weight="normal" >75</text>
<text x="65.30" y="661.40" font-size="12" text-anchor="end" font-weight="normal" >50</text>
<text x="65.30" y="706.00" font-size="12" text-anchor="end" font-weight="normal" >25</text>
<text x="65.30" y="750.80" font-size="12" text-anchor="end" font-weight="normal" >0</text>
<text x="81.60" y="766.00" font-size="12" text-anchor="middle" font-weight="normal" >0.3</text>
<text x="126.30" y="766.00" font-size="12" text-anchor="middle" font-weight="normal" >1</text>
<text x="171.90" y="766.00" font-size="12" text-anchor="middle" font-weight="normal" >3</text>
<path d="M81.60 704.00L126.30 658.00L171.90 684.00" stroke="#000" stroke-width="1.15" fill="none"/>
<path d="M81.60 693.00V717.70M77.85 693.00h7.5M77.85 717.70h7.5" stroke="#000" stroke-width="1" fill="none"/>
<path d="M126.30 638.00V676.00M122.55 638.00h7.5M122.55 676.00h7.5" stroke="#000" stroke-width="1" fill="none"/>
<path d="M81.60 699.01L86.64 708.69H76.56Z" fill="#000"/>
<path d="M126.30 653.01L131.34 662.69H121.26Z" fill="#000"/>
<path d="M171.90 679.01L176.94 688.69H166.86Z" fill="#000"/>
<path d="M81.60 743.80L126.30 737.60L171.90 739.60" stroke="#000" stroke-width="1.15" fill="none"/>
<circle cx="81.60" cy="743.80" r="4.28" fill="#fff" stroke="#000" stroke-width="1.4"/>
<circle cx="126.30" cy="737.60" r="4.28" fill="#fff" stroke="#000" stroke-width="1.4"/>
<circle cx="171.90" cy="739.60" r="4.28" fill="#fff" stroke="#000" stroke-width="1.4"/>
<path d="M81.60 745.40L126.30 745.60L171.90 745.00" stroke="#000" stroke-width="1.15" fill="none"/>
<rect x="77.11" y="740.91" width="8.988000000000001" height="8.988000000000001" fill="#000"/>
<rect x="121.81" y="741.11" width="8.988000000000001" height="8.988000000000001" fill="#000"/>
<rect x="167.41" y="740.51" width="8.988000000000001" height="8.988000000000001" fill="#000"/>
<text transform="translate(198.50 677.70) rotate(-90)" font-size="12" text-anchor="middle"  textLength="74" lengthAdjust="spacing">IFN-γ (ng/ml)</text>
<path d="M232 611.3V746.5M228.5 746.5H355" stroke="#000" stroke-width="1.05" fill="none"/>
<path d="M228.5 611.3H232M228.5 655.8H232M228.5 700.9H232M228.5 746.5H232M244.2 746.5v3.5M289.6 746.5v3.5M333.5 746.5v3.5" stroke="#000" stroke-width="1.15" fill="none"/>
<text x="225.50" y="615.30" font-size="12" text-anchor="end" font-weight="normal" >30</text>
<text x="225.50" y="659.80" font-size="12" text-anchor="end" font-weight="normal" >20</text>
<text x="225.50" y="704.90" font-size="12" text-anchor="end" font-weight="normal" >10</text>
<text x="225.50" y="750.50" font-size="12" text-anchor="end" font-weight="normal" >0</text>
<text x="247.20" y="766.80" font-size="12" text-anchor="middle" font-weight="normal" >0.3</text>
<text x="293.60" y="766.80" font-size="12" text-anchor="middle" font-weight="normal" >1</text>
<text x="342.50" y="766.80" font-size="12" text-anchor="middle" font-weight="normal" >3</text>
<path d="M244.20 732.30L289.60 710.20L332.80 680.30" stroke="#000" stroke-width="1.15" fill="none"/>
<path d="M289.60 702.20V716.70M285.85 702.20h7.5M285.85 716.70h7.5" stroke="#000" stroke-width="1" fill="none"/>
<path d="M332.80 653.20V710.20M329.05 653.20h7.5M329.05 710.20h7.5" stroke="#000" stroke-width="1" fill="none"/>
<path d="M244.20 727.20L249.32 737.10H239.08Z" fill="#000"/>
<path d="M289.60 705.10L294.72 715.00H284.48Z" fill="#000"/>
<path d="M332.80 675.20L337.92 685.10H327.68Z" fill="#000"/>
<path d="M244.20 746.90L290.00 746.90L334.50 746.90" stroke="#000" stroke-width="1.15" fill="none"/>
<rect x="239.54" y="742.24" width="9.324000000000002" height="9.324000000000002" fill="#000"/>
<rect x="285.34" y="742.24" width="9.324000000000002" height="9.324000000000002" fill="#000"/>
<rect x="329.84" y="742.24" width="9.324000000000002" height="9.324000000000002" fill="#000"/>
<path d="M250.30 746.90L294.20 746.90L339.90 746.90" stroke="#000" stroke-width="1.15" fill="none"/>
<circle cx="250.30" cy="746.90" r="4.44" fill="#fff" stroke="#000" stroke-width="1.4"/>
<circle cx="294.20" cy="746.90" r="4.44" fill="#fff" stroke="#000" stroke-width="1.4"/>
<circle cx="339.90" cy="746.90" r="4.44" fill="#fff" stroke="#000" stroke-width="1.4"/>
<text transform="translate(363.20 666.70) rotate(-90)" font-size="12" text-anchor="middle"  textLength="66" lengthAdjust="spacing">IL-4 (ng/ml)</text>
<path d="M397 610.6V746M393.5 746H516.2" stroke="#000" stroke-width="1.05" fill="none"/>
<path d="M393.5 610.6H397M393.5 655.3H397M393.5 700.2H397M393.5 746H397M408 746v3.5M451 746v3.5M493 746v3.5" stroke="#000" stroke-width="1.15" fill="none"/>
<text x="390.60" y="614.60" font-size="12" text-anchor="end" font-weight="normal" >30</text>
<text x="390.60" y="659.30" font-size="12" text-anchor="end" font-weight="normal" >20</text>
<text x="390.60" y="704.20" font-size="12" text-anchor="end" font-weight="normal" >10</text>
<text x="390.60" y="750.00" font-size="12" text-anchor="end" font-weight="normal" >0</text>
<text x="411.30" y="766.80" font-size="12" text-anchor="middle" font-weight="normal" >0.3</text>
<text x="455.20" y="766.80" font-size="12" text-anchor="middle" font-weight="normal" >1</text>
<text x="503.00" y="766.80" font-size="12" text-anchor="middle" font-weight="normal" >3</text>
<path d="M408.00 736.60L451.00 712.20L493.00 650.70" stroke="#000" stroke-width="1.15" fill="none"/>
<path d="M451.00 704.70V720.20M447.25 704.70h7.5M447.25 720.20h7.5" stroke="#000" stroke-width="1" fill="none"/>
<path d="M493.00 624.40V676.30M489.25 624.40h7.5M489.25 676.30h7.5" stroke="#000" stroke-width="1" fill="none"/>
<path d="M408.00 731.50L413.12 741.40H402.88Z" fill="#000"/>
<path d="M451.00 707.10L456.12 717.00H445.88Z" fill="#000"/>
<path d="M493.00 645.60L498.12 655.50H487.88Z" fill="#000"/>
<path d="M407.60 746.40L450.20 746.40L493.00 746.40" stroke="#000" stroke-width="1.15" fill="none"/>
<rect x="402.94" y="741.74" width="9.324000000000002" height="9.324000000000002" fill="#000"/>
<rect x="445.54" y="741.74" width="9.324000000000002" height="9.324000000000002" fill="#000"/>
<rect x="488.34" y="741.74" width="9.324000000000002" height="9.324000000000002" fill="#000"/>
<path d="M413.30 746.40L455.70 746.40L498.70 746.40" stroke="#000" stroke-width="1.15" fill="none"/>
<circle cx="413.30" cy="746.40" r="4.44" fill="#fff" stroke="#000" stroke-width="1.4"/>
<circle cx="455.70" cy="746.40" r="4.44" fill="#fff" stroke="#000" stroke-width="1.4"/>
<circle cx="498.70" cy="746.40" r="4.44" fill="#fff" stroke="#000" stroke-width="1.4"/>
<text x="207.2" y="781.4" font-size="12.2" text-anchor="start" textLength="172.3" lengthAdjust="spacing">BALB/c splenocytes x 10<tspan font-size="9" dy="-4.2">-5</tspan><tspan dy="4.2">/well</tspan></text>
</svg>
</body></html>
